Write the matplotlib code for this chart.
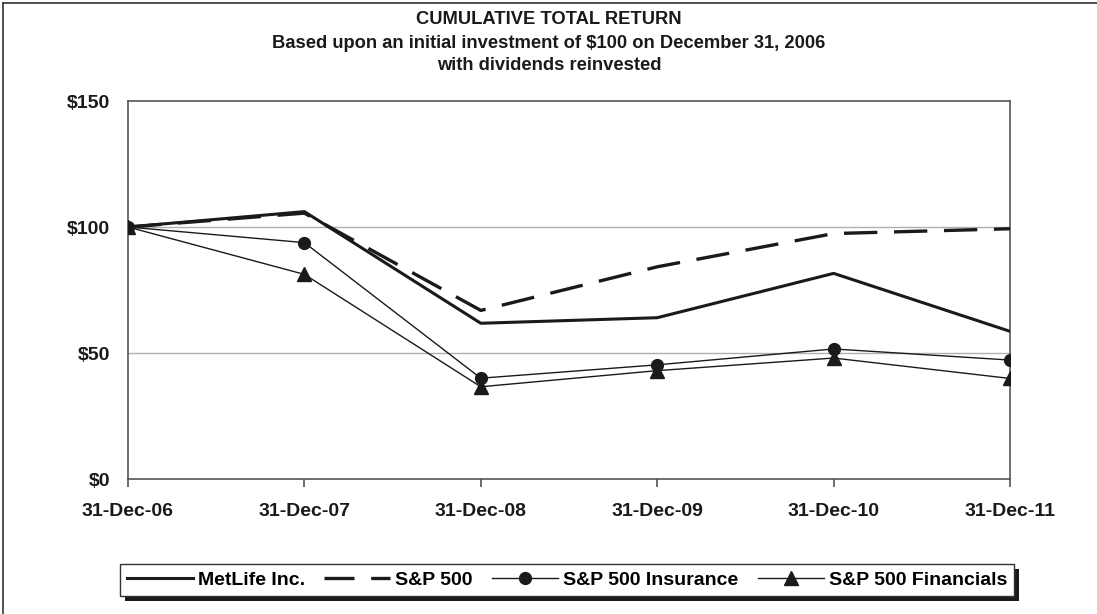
import matplotlib
matplotlib.use("Agg")
import matplotlib.pyplot as plt
from matplotlib.lines import Line2D
from matplotlib.patches import Rectangle

dates = ["31-Dec-06", "31-Dec-07", "31-Dec-08", "31-Dec-09", "31-Dec-10", "31-Dec-11"]
metlife = [100, 106.1, 61.8, 64.0, 81.6, 58.6]
sp500 = [100, 105.5, 66.9, 84.2, 97.4, 99.3]
sp_insurance = [100, 93.8, 40.0, 45.3, 51.6, 47.2]
sp_financials = [100, 81.2, 36.6, 43.0, 48.0, 39.9]
ytick_vals = [0, 50, 100, 150]
ytick_labels = ["$0", "$50", "$100", "$150"]

plt.rcParams['font.family'] = ['Liberation Sans', 'DejaVu Sans']
plt.rcParams['font.weight'] = 'bold'

W, H = 1097, 614
fig = plt.figure(figsize=(W / 100, H / 100), dpi=100)
ax = fig.add_axes([128 / W, 1 - 479 / H, (1010 - 128) / W, (479 - 101) / H])

x = list(range(len(dates)))
ax.plot(x, metlife, color='#1a1a1a', lw=2.2, label='MetLife Inc.', zorder=4)
ax.plot(x, sp500, color='#1a1a1a', lw=2.4, dashes=(10, 5), label='S&P 500', zorder=4)
ax.plot(x, sp_insurance, color='#1a1a1a', lw=1.0, marker='o', ms=8.5, label='S&P 500 Insurance', zorder=5)
ax.plot(x, sp_financials, color='#1a1a1a', lw=1.0, marker='^', ms=9.5, label='S&P 500 Financials', zorder=5)

ax.set_xlim(0, len(dates) - 1)
ax.set_ylim(0, 150)
ax.set_yticks(ytick_vals)
ax.set_yticklabels(ytick_labels)
ax.set_xticks(x)
ax.set_xticklabels(dates)
for y in [50, 100]:
    ax.axhline(y, color='#b0b0b0', lw=1.0, zorder=1)
for s in ['left', 'right', 'bottom', 'top']:
    ax.spines[s].set_color('#555555')
    ax.spines[s].set_linewidth(1.2)
ax.tick_params(axis='y', length=0, pad=13, labelsize=14, colors='#1a1a1a')
ax.tick_params(axis='x', length=6, width=1.2, color='#555555', pad=11, labelsize=14, labelcolor='#1a1a1a')
for lab in ax.get_yticklabels() + ax.get_xticklabels():
    lab.set_fontweight('bold')

title_kw = dict(ha='center', va='center', fontsize=13.2, fontweight='bold', color='#1a1a1a')
fig.text(549 / W, 1 - 20 / H, "CUMULATIVE TOTAL RETURN", **title_kw)
fig.text(549 / W, 1 - 43 / H, "Based upon an initial investment of $100 on December 31, 2006", **title_kw)
fig.text(549 / W, 1 - 66 / H, "with dividends reinvested", **title_kw)

# outer frame
fig.add_artist(Line2D([3 / W, 3 / W], [0, 1 - 3 / H], color='#333333', lw=1.2, transform=fig.transFigure))
fig.add_artist(Line2D([3 / W, 1], [1 - 3 / H, 1 - 3 / H], color='#333333', lw=1.2, transform=fig.transFigure))

handles = [
    Line2D([], [], color='#1a1a1a', lw=2.2),
    Line2D([], [], color='#1a1a1a', lw=2.4, dashes=(9, 5)),
    Line2D([], [], color='#1a1a1a', lw=1.0, marker='o', ms=8.5),
    Line2D([], [], color='#1a1a1a', lw=1.0, marker='^', ms=9.5),
]
labels = ['MetLife Inc.', 'S&P 500', 'S&P 500 Insurance', 'S&P 500 Financials']
leg = fig.legend(handles, labels, loc='center', bbox_to_anchor=(567 / W, 1 - 580 / H), ncol=4,
                 frameon=True, fancybox=False, shadow=False, handlelength=3.4,
                 handletextpad=0.25, columnspacing=1.0, borderpad=0.35, edgecolor='#333333',
                 facecolor='white', framealpha=1.0,
                 prop={'weight': 'bold', 'size': 14})
leg.get_frame().set_linewidth(1.0)
leg.set_zorder(10)

fig.canvas.draw()
bb = leg.get_window_extent().transformed(fig.transFigure.inverted())
dx, dy = 5 / W, 5 / H
shadow = Rectangle((bb.x0 + dx, bb.y0 - dy), bb.width, bb.height, transform=fig.transFigure,
                   facecolor='#1a1a1a', edgecolor='none', zorder=9)
fig.add_artist(shadow)

fig.savefig("out.png", dpi=100, facecolor='white')
